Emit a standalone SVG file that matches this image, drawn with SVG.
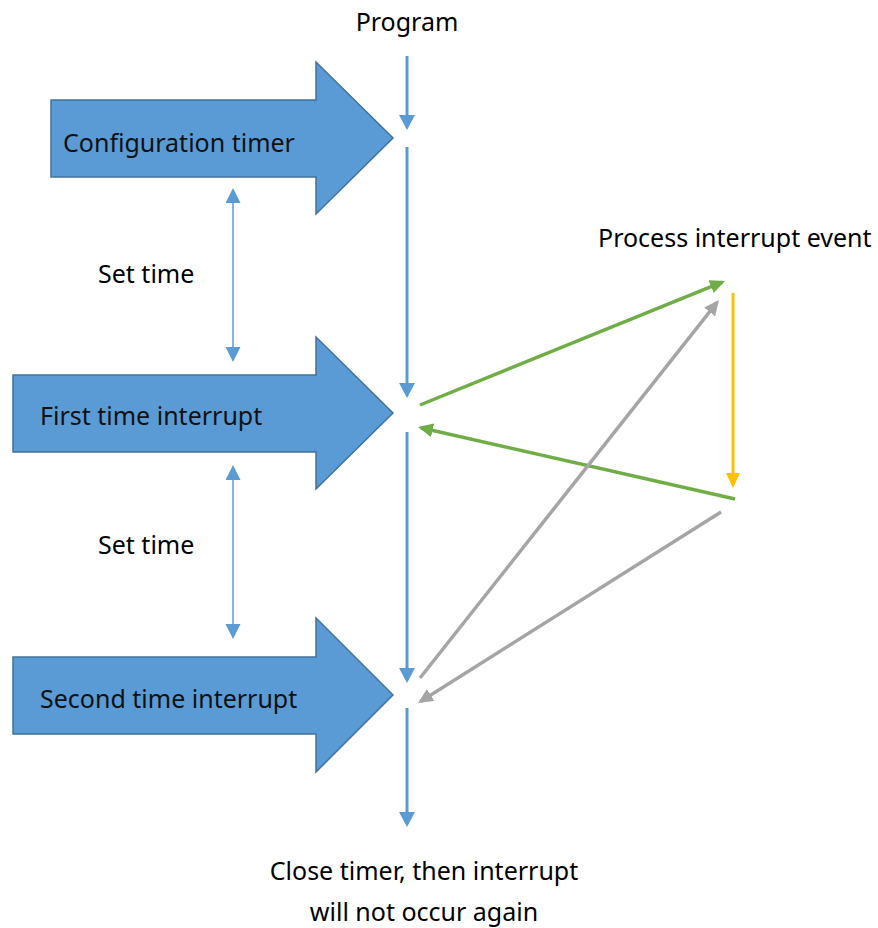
<svg xmlns="http://www.w3.org/2000/svg" width="878" height="928" viewBox="0 0 878 928">
<style>
.blk{fill:#5B9BD5;stroke:#41719C;stroke-width:1.5}
.t{font-family:"Noto Sans","Liberation Sans",sans-serif;font-size:25px;fill:#000}
.tb{font-family:"Noto Sans","Liberation Sans",sans-serif;font-size:25px;fill:#111}
.main{stroke:#5B9BD5;stroke-width:3;fill:none}
.thin{stroke:#5B9BD5;stroke-width:1.5;fill:none}
.grn{stroke:#70AD47;stroke-width:3.5;fill:none}
.gry{stroke:#A5A5A5;stroke-width:3.5;fill:none}
.yel{stroke:#FFC000;stroke-width:3;fill:none}
</style>
<defs>
<marker id="mb" markerUnits="userSpaceOnUse" markerWidth="16" markerHeight="16" refX="12" refY="8" orient="auto-start-reverse" viewBox="0 0 16 16"><path d="M0,0 L15,8 L0,16 z" fill="#5B9BD5"/></marker>
<marker id="mt" markerUnits="userSpaceOnUse" markerWidth="16" markerHeight="16" refX="13" refY="7.5" orient="auto-start-reverse" viewBox="0 0 16 16"><path d="M0,0 L15,7.5 L0,15 z" fill="#5B9BD5"/></marker>
<marker id="mg" markerUnits="userSpaceOnUse" markerWidth="16" markerHeight="16" refX="12" refY="7" orient="auto" viewBox="0 0 16 16"><path d="M0,0 L15,7 L0,14 z" fill="#70AD47"/></marker>
<marker id="mr" markerUnits="userSpaceOnUse" markerWidth="16" markerHeight="16" refX="12" refY="7" orient="auto" viewBox="0 0 16 16"><path d="M0,0 L15,7 L0,14 z" fill="#A5A5A5"/></marker>
<marker id="my" markerUnits="userSpaceOnUse" markerWidth="16" markerHeight="16" refX="12" refY="7" orient="auto" viewBox="0 0 16 16"><path d="M0,0 L15,7 L0,14 z" fill="#FFC000"/></marker>
</defs>

<g id="config-timer">
<path class="blk" d="M51,100 H316 V62 L393,138 L316,214 V177 H51 Z"/>
<text class="tb" x="63" y="152">Configuration timer</text>
</g>
<g id="first-interrupt">
<path class="blk" d="M13,375 H316 V337 L393,413 L316,489 V452 H13 Z"/>
<text class="tb" x="40" y="425">First time interrupt</text>
</g>
<g id="second-interrupt">
<path class="blk" d="M13,657 H316 V618 L393,695 L316,772 V734 H13 Z"/>
<text class="tb" x="40" y="708">Second time interrupt</text>
</g>
<g id="program-label"><text class="t" x="407" y="31" text-anchor="middle">Program</text></g>
<g id="process-event"><text class="t" x="598" y="247">Process interrupt event</text></g>
<g id="set-time-1"><text class="t" x="98" y="283">Set time</text></g>
<g id="set-time-2"><text class="t" x="98" y="554">Set time</text></g>
<g id="close-timer">
<text class="t" x="424" y="880" text-anchor="middle">Close timer, then interrupt</text>
<text class="t" x="424" y="921" text-anchor="middle">will not occur again</text>
</g>

<g id="connectors">
<line class="main" x1="407" y1="56" x2="407" y2="127" marker-end="url(#mb)"/>
<line class="main" x1="407" y1="147" x2="407" y2="395" marker-end="url(#mb)"/>
<line class="main" x1="407" y1="432" x2="407" y2="680" marker-end="url(#mb)"/>
<line class="main" x1="407" y1="708" x2="407" y2="824" marker-end="url(#mb)"/>
<line class="thin" x1="233" y1="190" x2="233" y2="360" marker-start="url(#mt)" marker-end="url(#mt)"/>
<line class="thin" x1="233" y1="467" x2="233" y2="637" marker-start="url(#mt)" marker-end="url(#mt)"/>
<line class="grn" x1="420" y1="405" x2="722.2" y2="282.1" marker-end="url(#mg)"/>
<line class="yel" x1="733" y1="293" x2="733" y2="485" marker-end="url(#my)"/>
<line class="grn" x1="735" y1="499" x2="420.9" y2="427.7" marker-end="url(#mg)"/>
<line class="gry" x1="420" y1="678" x2="717.1" y2="302.4" marker-end="url(#mr)"/>
<line class="gry" x1="721" y1="512" x2="420.5" y2="701.4" marker-end="url(#mr)"/>
</g>
</svg>
